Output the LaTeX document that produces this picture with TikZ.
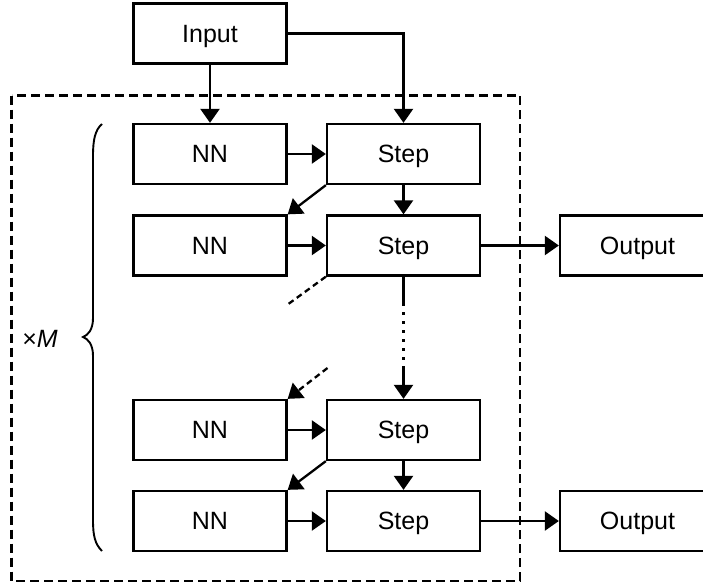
\documentclass[tikz,border=0pt]{standalone}
\usepackage{fontspec}
\setmainfont{Liberation Sans}
\usetikzlibrary{arrows.meta}
\begin{document}
\begin{tikzpicture}[x=1pt,y=-1pt,
  box/.style={draw,line width=2.3pt,minimum width=153pt,minimum height=60pt,inner sep=0pt,
    text height=17.9pt,text depth=0pt,
    font=\fontsize{25}{30}\selectfont},
  outbox/.style={box,minimum width=155pt},
  arr/.style={line width=2.3pt,-{Triangle[length=14pt,width=19pt]}},
  ln/.style={line width=2.3pt},
  dsh/.style={dash pattern=on 6pt off 4pt},
  frame/.style={line width=2.1pt,dash pattern=on 9pt off 5pt}]
\path[use as bounding box] (0,0) rectangle (703,586);
\clip (0,0) rectangle (703,586);
\node[box] (in) at (210,33.5) {Input};
\node[box] (nn1) at (210,154) {NN};
\node[box] (s1) at (403.5,154) {Step};
\node[box] (nn2) at (210,245.5) {NN};
\node[box] (s2) at (403.5,245.5) {Step};
\node[box] (nn3) at (210,430) {NN};
\node[box] (s3) at (403.5,430) {Step};
\node[box] (nn4) at (210,521) {NN};
\node[box] (s4) at (403.5,521) {Step};
\node[outbox] (o1) at (637.5,245.5) {Output};
\node[outbox] (o2) at (637.5,521) {Output};
% dashed frame
\draw[frame] (11.5,95.5) rectangle (520,581);
% brace
\draw[line width=1.9pt] (102,124) .. controls (95,130) and (93,140) .. (93,156)
  -- (93,318) .. controls (93,330) and (88,335) .. (83,337)
  .. controls (88,339) and (93,344) .. (93,356)
  -- (93,520) .. controls (93,536) and (95,544) .. (102,551);
\node[font=\fontsize{25}{30}\selectfont,anchor=center] (xm) at (40,339) {×\textit{M}};
% connectors
\draw[arr] (in.south) -- (nn1.north);
\draw[arr] (in.east) -| (s1.north);
\draw[arr] (nn1.east) -- (s1.west);
\draw[arr] (s1.south) -- (s2.north);
\draw[arr] (s1.south west) -- (nn2.north east);
\draw[arr] (nn2.east) -- (s2.west);
\draw[arr] (s2.east) -- (o1.west);
\coordinate (d1) at (287,305);
\draw[ln,dsh] (s2.south west) -- (d1);
\coordinate (v1) at (403.5,303);
\coordinate (v2) at (403.5,367);
\draw[ln] (s2.south) -- (v1);
\draw[ln,dash pattern=on 2.5pt off 6.5pt] (v1) -- (v2);
\draw[arr] (v2) -- (s3.north);
\coordinate (d2) at (327.5,368);
\draw[arr,dsh] (d2) -- (nn3.north east);
\draw[arr] (nn3.east) -- (s3.west);
\draw[arr] (s3.south west) -- (nn4.north east);
\draw[arr] (s3.south) -- (s4.north);
\draw[arr] (nn4.east) -- (s4.west);
\draw[arr] (s4.east) -- (o2.west);
\end{tikzpicture}
\end{document}
